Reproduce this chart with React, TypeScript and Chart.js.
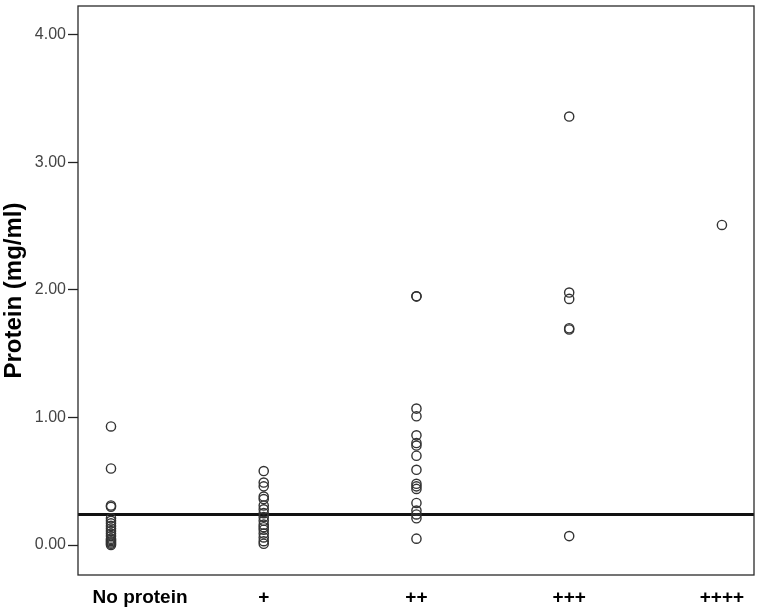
import React, { useEffect, useRef } from "react";
import { Chart, registerables } from "chart.js";

Chart.register(...registerables);

const categories = ["           No protein", "+", "++", "+++", "++++"];
const noProtein = [0.93, 0.6, 0.31, 0.3, 0.21, 0.19, 0.17, 0.15, 0.13, 0.11, 0.09, 0.07, 0.05, 0.04, 0.03, 0.02, 0.01, 0.0];
const plusOne = [0.58, 0.49, 0.46, 0.38, 0.36, 0.31, 0.28, 0.25, 0.22, 0.19, 0.16, 0.14, 0.12, 0.09, 0.06, 0.03, 0.01];
const plusTwo = [1.95, 1.95, 1.07, 1.01, 0.86, 0.8, 0.78, 0.7, 0.59, 0.48, 0.46, 0.44, 0.33, 0.27, 0.24, 0.21, 0.05];
const plusThree = [3.36, 1.98, 1.93, 1.7, 1.69, 0.07];
const plusFour = [2.51];
const referenceValue = 0.24;
const yTicks = [0, 1, 2, 3, 4];
const yTitle = "Protein (mg/ml)";

const groups = [noProtein, plusOne, plusTwo, plusThree, plusFour];

const X_MIN = -0.216;
const X_MAX = 4.21;
const Y_MIN = -0.235;
const Y_MAX = 4.227;

export default function App() {
  const ref = useRef<HTMLCanvasElement | null>(null);

  useEffect(() => {
    if (!ref.current) return;
    const points: { x: number; y: number }[] = [];
    groups.forEach((g, i) => g.forEach((v) => points.push({ x: i, y: v })));

    const framePlugin = {
      id: "frame",
      afterDatasetsDraw(chart: any) {
        const { ctx, chartArea } = chart;
        ctx.save();
        ctx.strokeStyle = "#2a2a2a";
        ctx.lineWidth = 1.3;
        ctx.strokeRect(chartArea.left, chartArea.top, chartArea.right - chartArea.left, chartArea.bottom - chartArea.top);
        ctx.restore();
      },
    };

    const chart = new Chart(ref.current, {
      type: "scatter",
      data: {
        datasets: [
          {
            data: points,
            pointRadius: 4.6,
            pointHoverRadius: 4.6,
            borderWidth: 1.4,
            borderColor: "#333",
            backgroundColor: "rgba(0,0,0,0)",
          },
          {
            type: "line",
            data: [
              { x: X_MIN, y: referenceValue },
              { x: X_MAX, y: referenceValue },
            ],
            showLine: true,
            pointRadius: 0,
            borderWidth: 3,
            borderColor: "#111",
          } as any,
        ],
      },
      options: {
        responsive: false,
        animation: false,
        devicePixelRatio: 1,
        layout: { padding: { top: 5, right: 7, left: 0, bottom: 0 } },
        plugins: { legend: { display: false }, tooltip: { enabled: false } },
        scales: {
          x: {
            type: "linear",
            min: X_MIN,
            max: X_MAX,
            afterBuildTicks: (scale: any) => {
              scale.ticks = categories.map((_, i) => ({ value: i }));
            },
            afterFit: (scale: any) => {
              scale.height = 36;
              scale.paddingLeft = 0;
              scale.paddingRight = 0;
            },
            grid: { display: true, drawOnChartArea: false, drawTicks: false },
            border: { display: false },
            ticks: {
              autoSkip: false,
              maxRotation: 0,
              padding: 11,
              color: "#000",
              font: { family: "Arial, 'Liberation Sans', sans-serif", size: 19, weight: "bold" },
              callback: (v: any) => categories[Math.round(Number(v))] ?? "",
            },
          },
          y: {
            type: "linear",
            min: Y_MIN,
            max: Y_MAX,
            afterBuildTicks: (scale: any) => {
              scale.ticks = yTicks.map((v) => ({ value: v }));
            },
            afterFit: (scale: any) => {
              scale.width = 78;
              scale.paddingTop = 0;
              scale.paddingBottom = 0;
            },
            grid: { drawOnChartArea: false, drawTicks: true, tickLength: 10, tickColor: "#222", tickWidth: 1.3 },
            border: { display: false },
            title: {
              display: true,
              text: yTitle,
              color: "#000",
              padding: { top: 0, bottom: 0 },
              font: { family: "Arial, 'Liberation Sans', sans-serif", size: 24, weight: "bold" },
            },
            ticks: {
              padding: 2,
              color: "#444",
              font: { family: "Arial, 'Liberation Sans', sans-serif", size: 16 },
              callback: (v: any) => Number(v).toFixed(2),
            },
          },
        },
      },
      plugins: [framePlugin],
    });
    return () => chart.destroy();
  }, []);

  return (
    <div style={{ position: "absolute", left: 0, top: 0, width: 761, height: 611, background: "#fff" }}>
      <canvas ref={ref} width={761} height={611} />
    </div>
  );
}
